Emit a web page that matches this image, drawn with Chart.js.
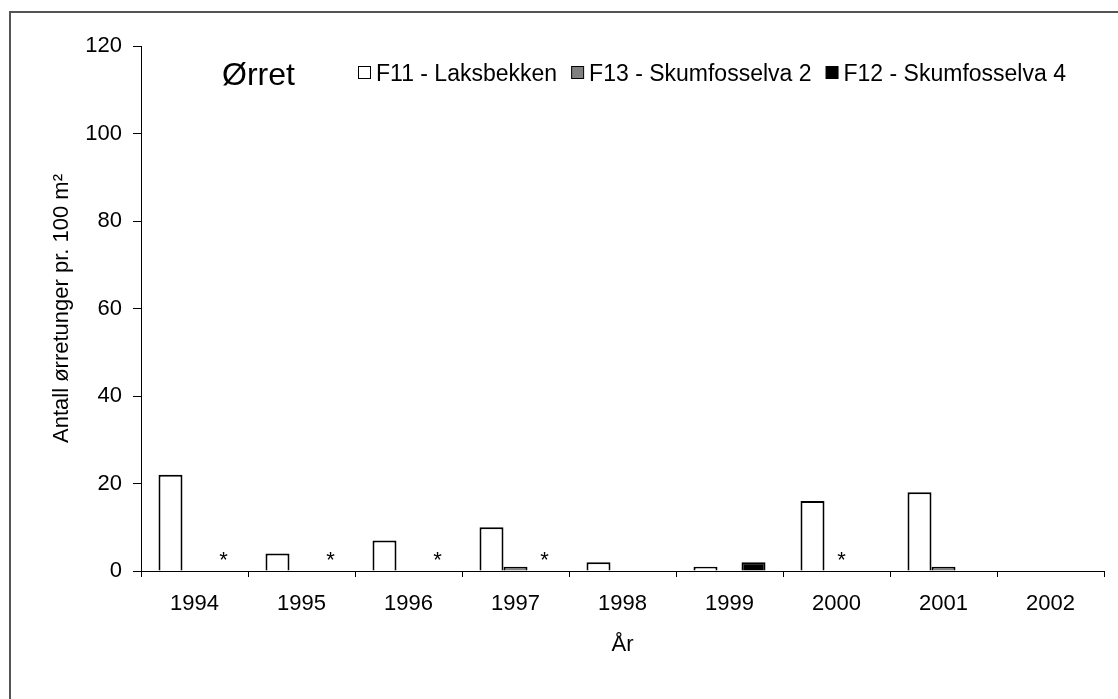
<!DOCTYPE html>
<html>
<head>
<meta charset="utf-8">
<script src="https://cdn.jsdelivr.net/npm/chart.js@4/dist/chart.umd.min.js"></script>
<style>
  html, body { margin: 0; padding: 0; background: #fff; }
  #frame {
    position: absolute; left: 9px; top: 11px; width: 1120px; height: 700px;
    border-left: 2px solid #555; border-top: 2px solid #555;
  }
  #chart { position: absolute; left: 0; top: 0; }
</style>
</head>
<body>
<div id="frame"></div>
<canvas id="chart" width="1118" height="699"></canvas>
<script>
// data
const years = ['1994', '1995', '1996', '1997', '1998', '1999', '2000', '2001', '2002'];
const seriesNames = ['F11 - Laksbekken', 'F13 - Skumfosselva 2', 'F12 - Skumfosselva 4'];
const f11Values = [22, 4, 7, 10, 2, 1, 16, 18, null];
const f13Values = [null, null, null, 1, null, null, null, 1, null];
const f12Values = [null, null, null, null, null, 2, null, null, null];
const yTicks = [0, 20, 40, 60, 80, 100, 120];

// "*" marks (not sampled): year + series index
const asteriskYears = ['1994', '1995', '1996', '1997', '2000'];
const asteriskSeries = [2, 2, 2, 2, 1];

const FONT = 'Liberation Sans, Arial, sans-serif';
const fillColors = ['#ffffff', '#808080', '#000000'];

// legend + title text drawn inside the plot, like the excel original
const legendPlugin = {
    id: 'insideLegend',
    afterDraw(chart) {
        const ctx = chart.ctx;
        const area = chart.chartArea;
        ctx.save();
        ctx.fillStyle = '#000';
        ctx.textBaseline = 'alphabetic';
        ctx.font = '32px ' + FONT;
        ctx.fillText('Ørret', area.left + 81, area.top + 39);

        ctx.font = '23px ' + FONT;
        let x = 358;
        const baseY = area.top + 35;
        chart.data.datasets.forEach((ds, i) => {
            ctx.fillStyle = ds.backgroundColor;
            ctx.fillRect(x + 0.5, baseY - 14.5, 12, 12);
            ctx.strokeStyle = '#000';
            ctx.lineWidth = 1;
            ctx.strokeRect(x + 0.5, baseY - 14.5, 12, 12);
            ctx.fillStyle = '#000';
            ctx.fillText(ds.label, x + 18, baseY);
            x += 18 + ctx.measureText(ds.label).width + 14;
        });
        ctx.restore();
    }
};

const asteriskPlugin = {
    id: 'asterisks',
    afterDatasetsDraw(chart) {
        const ctx = chart.ctx;
        const yScale = chart.scales.y;
        ctx.save();
        ctx.font = '22px ' + FONT;
        ctx.fillStyle = '#000';
        ctx.textAlign = 'center';
        ctx.textBaseline = 'alphabetic';
        asteriskYears.forEach((yr, k) => {
            const idx = years.indexOf(yr);
            const bar = chart.getDatasetMeta(asteriskSeries[k]).data[idx];
            if (!bar) return;
            ctx.fillText('*', bar.x + 5, yScale.getPixelForValue(0) - 4);
        });
        ctx.restore();
    }
};

const makeSet = (label, values, i) => ({
    label: label,
    data: values,
    backgroundColor: fillColors[i],
    borderColor: '#000',
    borderWidth: 2,
    barPercentage: 1,
    categoryPercentage: 0.673
});

new Chart(document.getElementById('chart'), {
    type: 'bar',
    data: {
        labels: years,
        datasets: [
            makeSet(seriesNames[0], f11Values, 0),
            makeSet(seriesNames[1], f13Values, 1),
            makeSet(seriesNames[2], f12Values, 2)
        ]
    },
    options: {
        responsive: false,
        animation: false,
        layout: { padding: { left: 0, top: 46, right: 14, bottom: 0 } },
        plugins: {
            legend: { display: false },
            tooltip: { enabled: false }
        },
        scales: {
            x: {
                afterFit(scale) { scale.height = 128; },
                grid: { offset: true, drawOnChartArea: false, tickLength: 6, color: '#000' },
                border: { color: '#000', width: 1 },
                ticks: { color: '#000', padding: 14, font: { family: FONT, size: 22 } },
                title: {
                    display: true, text: 'År', color: '#000',
                    font: { family: FONT, size: 22 },
                    padding: { top: 0, bottom: 41 }
                }
            },
            y: {
                min: 0,
                max: 120,
                afterFit(scale) { scale.width = 141; },
                afterBuildTicks(scale) { scale.ticks = yTicks.map(v => ({ value: v })); },
                grid: { drawOnChartArea: false, tickLength: 8, color: '#000' },
                border: { color: '#000', width: 1 },
                ticks: { color: '#000', padding: 11, font: { family: FONT, size: 22 } },
                title: {
                    display: true, text: 'Antall ørretunger pr. 100 m²', color: '#000',
                    font: { family: FONT, size: 22 },
                    padding: { top: 49, bottom: 0 }
                }
            }
        }
    },
    plugins: [legendPlugin, asteriskPlugin]
});
</script>
</body>
</html>
